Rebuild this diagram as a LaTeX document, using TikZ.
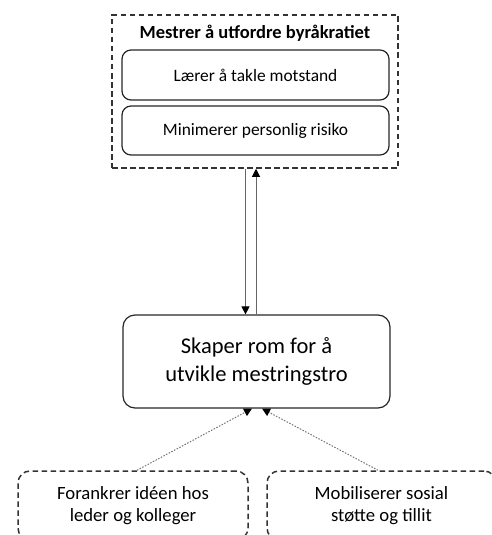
\documentclass[tikz,border=0pt]{standalone}
\usepackage{fontspec}
\setmainfont{Carlito}
\usetikzlibrary{arrows.meta}
\begin{document}
\begin{tikzpicture}[x=1pt,y=-1pt,
  solidbox/.style={draw=black!85, line width=1.2pt, rounded corners=9pt, align=center, inner sep=0pt},
  dashbox/.style={draw=black!80, line width=1.5pt, dash pattern=on 5.5pt off 3.5pt, align=center, inner sep=0pt},
  tip/.style={-{Triangle[length=8pt,width=8pt,color=black]}},
  link/.style={draw=black!60, line width=1pt, tip},
  dotlink/.style={draw=black!55, line width=1pt, dash pattern=on 1.5pt off 1.5pt, tip}]
  \useasboundingbox (0,0) rectangle (491,535);

  % top group
  \node[dashbox, minimum width=286pt, minimum height=153pt] (outer) at (255,91.5) {};
  \node[font=\fontsize{18.5}{22}\selectfont\bfseries] (title) at (255,33) {Mestrer å utfordre byråkratiet};
  \node[solidbox, minimum width=267pt, minimum height=50pt, font=\fontsize{17.4}{21}\selectfont] (takle) at (255.5,75) {Lærer å takle motstand};
  \node[solidbox, minimum width=267pt, minimum height=49pt, font=\fontsize{17.4}{21}\selectfont] (risiko) at (255.5,130.5) {Minimerer personlig risiko};

  % central box
  \node[solidbox, rounded corners=12pt, minimum width=267pt, minimum height=93pt, font=\fontsize{22.5}{28}\selectfont] (rom) at (256.5,361.5) {Skaper rom for å\\utvikle mestringstro};

  % bottom boxes
  \node[dashbox, rounded corners=12pt, minimum width=230pt, minimum height=69pt, font=\fontsize{18.7}{22}\selectfont] (forankrer) at (133,505.5) {Forankrer idéen hos\\leder og kolleger};
  \node[dashbox, rounded corners=12pt, minimum width=229pt, minimum height=69pt, font=\fontsize{18.7}{22}\selectfont] (mobiliserer) at (381.5,505.5) {Mobiliserer sosial\\støtte og tillit};

  % connectors
  \coordinate (down) at (245.5,0);
  \coordinate (up) at (256,0);
  \path[link] (outer.south -| down) -- (rom.north -| down);
  \path[link] (rom.north -| up) -- (outer.south -| up);
  \path[dotlink] ([xshift=4pt]forankrer.north) -- ([xshift=-4.5pt]rom.south);
  \path[dotlink] ([xshift=-3.5pt]mobiliserer.north) -- ([xshift=5.5pt]rom.south);
\end{tikzpicture}
\end{document}
